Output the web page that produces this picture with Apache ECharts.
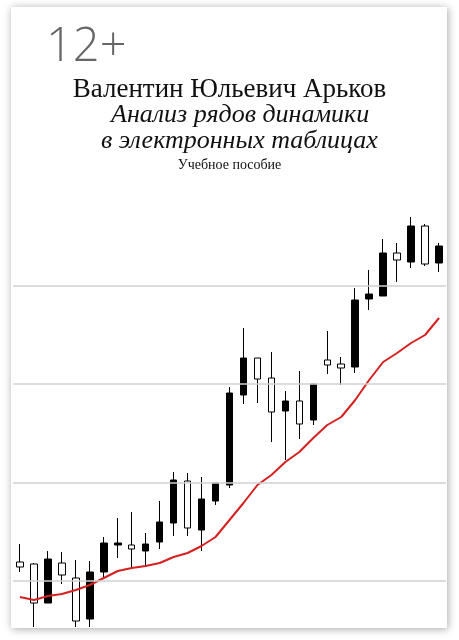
<!DOCTYPE html>
<html>
<head>
<meta charset="utf-8">
<script src="https://cdn.jsdelivr.net/npm/echarts@6/dist/echarts.min.js"></script>
<style>html,body{margin:0;padding:0;background:#fff}#chart{width:459px;height:640px}</style>
</head>
<body>
<div id="chart"></div>
<script>
// candles: [open, close, low, high]
var candles = [
  [73, 78, 68, 96], [37, 76, 13, 77], [81, 37, 37, 89], [65, 77, 56, 88],
  [19, 62, 13, 80], [68, 21, 13, 79], [97, 68, 63, 103], [97, 95, 82, 122],
  [91, 95, 72, 128], [96, 89, 74, 107], [118, 98, 91, 139], [160, 117, 104, 168],
  [112, 159, 104, 167], [141, 110, 89, 163], [157, 139, 135, 157], [247, 155, 152, 253],
  [282, 245, 236, 312], [261, 282, 237, 282], [228, 262, 198, 288], [239, 229, 180, 249],
  [216, 239, 201, 269], [256, 220, 215, 256], [275, 280, 266, 309], [272, 276, 255, 283],
  [340, 273, 267, 352], [346, 341, 330, 370], [387, 344, 344, 401], [380, 387, 358, 397],
  [414, 378, 372, 423], [376, 414, 374, 416], [394, 377, 368, 397]
];
var movingAvg = [43, 40, 44, 46, 50, 55, 62, 69, 72, 74, 77, 83, 87, 94, 103, 120,
  137, 155, 165, 178, 188, 202, 215, 223, 240, 260, 278, 287, 297, 305, 322];
var gridLevels = [59, 157, 256, 354];
var days = candles.map(function (c, i) { return 'd' + (i + 1); });

var chart = echarts.init(document.getElementById('chart'));
chart.setOption({
  animation: false,
  graphic: [
    { type: 'rect', shape: { x: 11, y: 7, width: 436, height: 621 },
      style: { fill: '#fff', shadowBlur: 8, shadowColor: 'rgba(0,0,0,0.35)', shadowOffsetX: 1, shadowOffsetY: 1 }, z: -10 },
    { type: 'text', left: 46, top: 24, style: { text: '12+', font: '300 47px "Open Sans"', fill: '#666' } },
    { type: 'text', left: 'center', top: 76, style: { text: 'Валентин Юльевич Арьков', font: '27px "Liberation Serif"', fill: '#111' } },
    { type: 'text', left: 111, top: 102, style: { text: 'Анализ рядов динамики', font: 'italic 26px "Liberation Serif"', fill: '#111' } },
    { type: 'text', left: 101, top: 128, style: { text: 'в электронных таблицах', font: 'italic 26px "Liberation Serif"', fill: '#111' } },
    { type: 'text', left: 'center', top: 158, style: { text: 'Учебное пособие', font: '14px "Liberation Serif"', fill: '#111' } }
  ],
  grid: { left: 13, right: 13, top: 200, bottom: 12 },
  xAxis: { type: 'category', data: days, show: false, boundaryGap: true },
  yAxis: { type: 'value', min: 12, max: 440, show: false, splitLine: { show: false } },
  series: [
    {
      type: 'candlestick', data: candles, barWidth: 7,
      itemStyle: { color: '#fff', color0: '#000', borderColor: '#000', borderColor0: '#000', borderWidth: 1 },
      markLine: {
        silent: true, symbol: 'none', label: { show: false },
        lineStyle: { color: '#d0d0d0', type: 'solid', width: 1.5 },
        data: gridLevels.map(function (v) { return { yAxis: v }; })
      },
      z: 3
    },
    {
      type: 'line', data: movingAvg, symbol: 'none', smooth: false,
      lineStyle: { color: '#d62020', width: 2 }, z: 4
    }
  ]
});
</script>
</body>
</html>
